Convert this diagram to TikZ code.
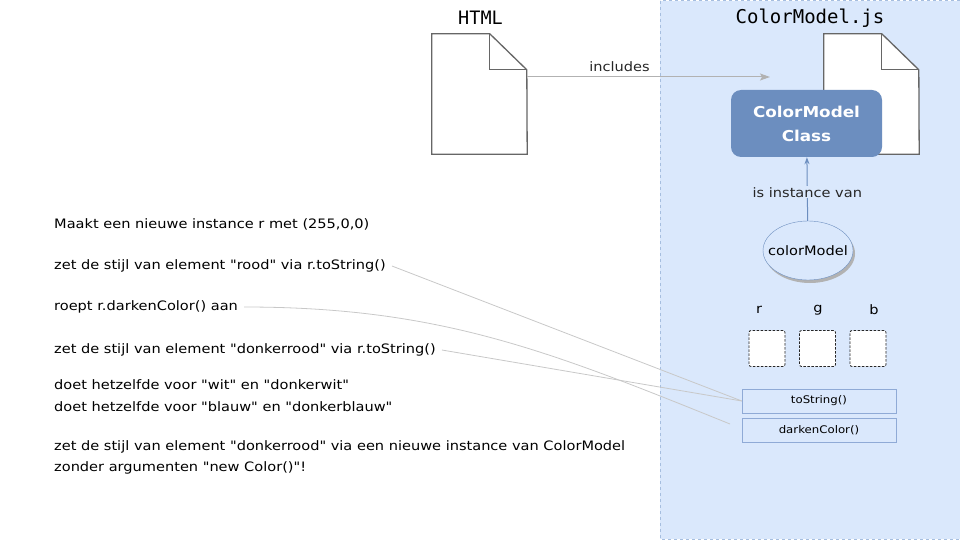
\documentclass[tikz,border=0pt]{standalone}
\usepackage{fontspec}
\setmainfont{DejaVu Sans}[FakeStretch=1.12,Ligatures=TeXOff]
\setmonofont{DejaVu Sans Mono}
\usetikzlibrary{arrows.meta,shadows,shapes.geometric}

\definecolor{lichtblauw}{HTML}{DAE8FC}
\definecolor{randblauw}{HTML}{6C8EBF}
\definecolor{methodrand}{HTML}{8FAAD6}
\definecolor{kaderrand}{HTML}{A6BEDF}
\definecolor{lijngrijs}{HTML}{C8C8C8}

\begin{document}
\begin{tikzpicture}[x=1pt,y=-1pt,
    uitleg/.style={anchor=west,inner sep=3pt,font=\fontsize{13}{15}\selectfont},
    methode/.style={draw=methodrand,fill=lichtblauw,minimum width=154pt,minimum height=24pt,
                    inner sep=0pt,font=\fontsize{10.5}{12}\selectfont},
    veld/.style={draw=black!85,dashed,dash pattern=on 2.5pt off 1.5pt,line width=0.8pt,
                 fill=white,rounded corners=2pt,minimum size=36pt,inner sep=0pt},
    document/.style={minimum width=95pt,minimum height=120pt,inner sep=0pt},
    aanroep/.style={draw=lijngrijs,line width=0.8pt}]
    \useasboundingbox (0,0) rectangle (960,540);

    % ColorModel.js kader
    \draw[kaderrand,fill=lichtblauw,dashed,line width=1pt] (660,1) rectangle (962,539);

    % documenten
    \node[document] (htmldoc) at (479.5,94) {};
    \draw[fill=white,draw=black!60,line width=1.3pt] (htmldoc.south west) -- (htmldoc.north west)
        -- ++(58,0) -- ++(37,36) -- (htmldoc.south east) -- cycle;
    \draw[draw=black!60,line width=1.3pt] ([xshift=58pt]htmldoc.north west) -- ++(0,36) -- ++(37,0);
    \node[font=\ttfamily\fontsize{18.5}{22}\selectfont] (htmllabel) at (480.5,18) {HTML};

    \node[document] (jsdoc) at (871.5,94) {};
    \draw[fill=white,draw=black!60,line width=1.3pt] (jsdoc.south west) -- (jsdoc.north west)
        -- ++(58,0) -- ++(37,36) -- (jsdoc.south east) -- cycle;
    \draw[draw=black!60,line width=1.3pt] ([xshift=58pt]jsdoc.north west) -- ++(0,36) -- ++(37,0);
    \node[font=\ttfamily\fontsize{19}{22}\selectfont] (jslabel) at (810,18) {ColorModel.js};

    % includes
    \coordinate (inclpunt) at (770,77);
    \draw[draw=black!30,line width=1pt,-{Stealth[length=10pt,width=7pt,inset=2pt]}]
        (htmldoc.east |- inclpunt) -- (inclpunt)
        node[pos=0.38,above=1pt,font=\fontsize{13}{15}\selectfont,black!85] {includes};

    % klasse en instance
    \node[fill=randblauw,rounded corners=10pt,minimum width=151pt,minimum height=67pt,
          text=white,font=\bfseries\fontsize{15}{24}\selectfont,align=center]
        (klasse) at (806.5,123.5) {ColorModel\\Class};
    \node[ellipse,draw=randblauw,fill=lichtblauw,minimum width=90pt,minimum height=59pt,
          inner sep=0pt,
          drop shadow={shadow xshift=2pt,shadow yshift=-3pt,fill=black!30,opacity=1},
          label={[font=\fontsize{13}{15}\selectfont]center:colorModel}]
        (instance) at (808,250.5) {};
    \draw[randblauw,line width=1pt,-{Stealth[length=7pt,width=5pt,open]}] (instance) -- (klasse)
        node[pos=0.45,fill=lichtblauw,inner sep=1pt,text=black!85,font=\fontsize{13}{15}\selectfont] {is instance van};

    % velden r, g, b
    \foreach \naam/\x/\lx in {r/767/759, g/817.5/818, b/868/874}{
        \node[veld] (veld\naam) at (\x,348.5) {};
        \node[font=\fontsize{13}{15}\selectfont] (label\naam) at (\lx,310) {\naam};
    }

    % methodes
    \node[methode] (tostr) at (819,401) {toString()};
    \node[methode] (darken) at (819,430) {darkenColor()};

    % uitleg links
    \node[uitleg] (maakt) at (51,224) {Maakt een nieuwe instance r met (255,0,0)};
    \node[uitleg] (rood) at (51,266) {zet de stijl van element "rood" via r.toString()};
    \node[uitleg] (roept) at (51,307) {roept r.darkenColor() aan};
    \node[uitleg] (donker) at (51,350) {zet de stijl van element "donkerrood" via r.toString()};
    \node[uitleg] (wit) at (51,385) {doet hetzelfde voor "wit" en "donkerwit"};
    \node[uitleg] (blauw) at (51,407) {doet hetzelfde voor "blauw" en "donkerblauw"};
    \node[uitleg] (nieuw) at (51,447) {zet de stijl van element "donkerrood" via een nieuwe instance van ColorModel};
    \node[uitleg] (zonder) at (51,468) {zonder argumenten "new Color()"!};

    % aanroepen
    \coordinate (darkenpunt) at (730,424);
    \draw[aanroep] ([xshift=3pt]rood.east) -- (tostr.west);
    \draw[aanroep] ([xshift=3pt]donker.east) -- (tostr.west);
    \draw[aanroep] ([xshift=3pt]roept.east) to[out=0,in=158] (darkenpunt);
\end{tikzpicture}
\end{document}
